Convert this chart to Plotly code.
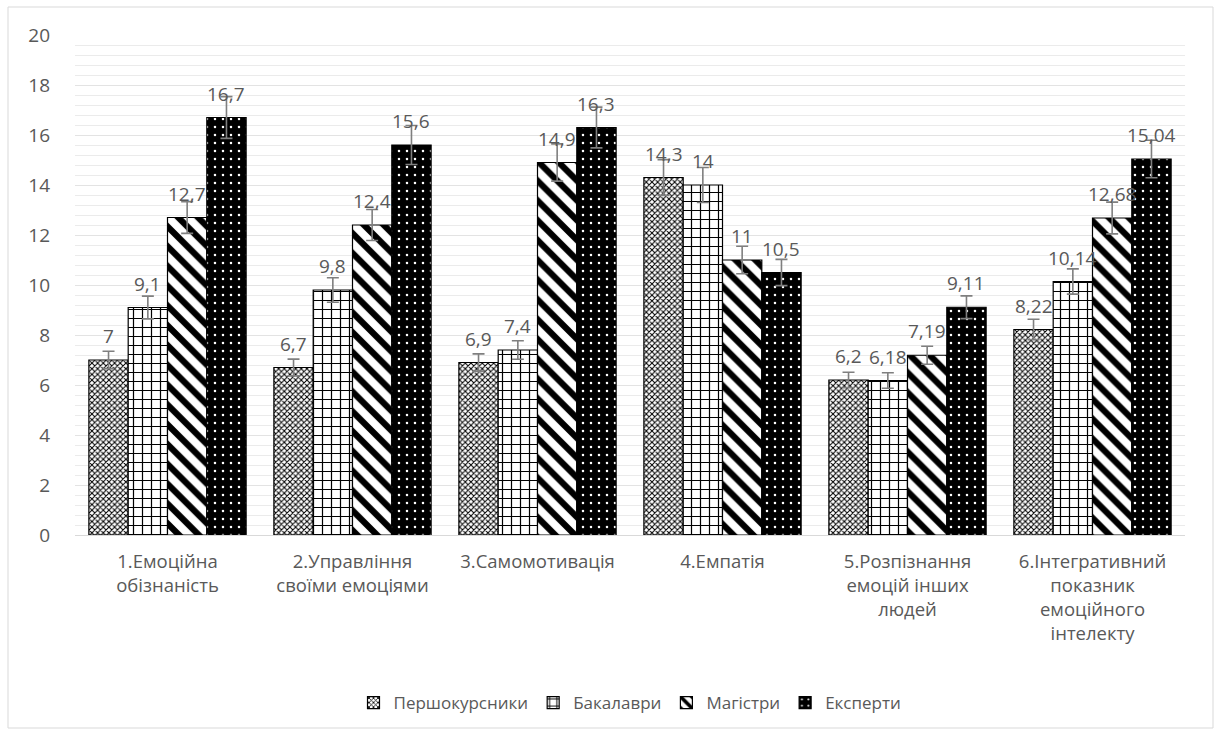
import plotly.graph_objects as go

categories = ["1.Емоційна<br>обізнаність", "2.Управління<br>своїми емоціями", "3.Самомотивація",
              "4.Емпатія", "5.Розпізнання<br>емоцій інших<br>людей",
              "6.Інтегративний<br>показник<br>емоційного<br>інтелекту"]
series_names = ["Першокурсники", "Бакалаври", "Магістри", "Експерти"]
pershokursnyky = [7, 6.7, 6.9, 14.3, 6.2, 8.22]
bakalavry = [9.1, 9.8, 7.4, 14, 6.18, 10.14]
magistry = [12.7, 12.4, 14.9, 11, 7.19, 12.68]
eksperty = [16.7, 15.6, 16.3, 10.5, 9.11, 15.04]
y_ticks = [0, 2, 4, 6, 8, 10, 12, 14, 16, 18, 20]

series_values = [pershokursnyky, bakalavry, magistry, eksperty]
patterns = [
    dict(shape="x", bgcolor="white", fgcolor="black", size=4, solidity=0.45),
    dict(shape="+", bgcolor="white", fgcolor="black", size=9, solidity=0.25),
    dict(shape="\\", bgcolor="white", fgcolor="black", size=14, solidity=0.45),
    dict(shape=".", bgcolor="black", fgcolor="white", size=8, solidity=0.08),
]
GRAY = "#595959"
FONT = "Open Sans"

W, H = 1220, 736
ML, MR, MT, MB = 75, 35, 35, 201
BARGAP = 0.15
plot_w = W - ML - MR
plot_h = H - MT - MB
bar_px = plot_w / len(categories) * (1 - BARGAP) / len(series_names)

fig = go.Figure()
for i, (name, vals, pat) in enumerate(zip(series_names, series_values, patterns)):
    fig.add_trace(go.Bar(
        x=categories, y=vals, name=name,
        marker=dict(color=pat["bgcolor"], pattern=dict(fillmode="replace", **pat),
                    line=dict(color="black", width=1.2)),
        error_y=dict(type="percent", value=5, color="#7f7f7f", thickness=1.6, width=6),
    ))
    offset = (i - (len(series_names) - 1) / 2) * bar_px
    for cat, v in zip(categories, vals):
        fig.add_annotation(x=cat, y=v, text=str(v).replace(".", ","), showarrow=False,
                           xshift=offset, yshift=9, yanchor="bottom",
                           font=dict(size=19, color=GRAY, family=FONT))

fig.update_layout(
    width=W, height=H,
    margin=dict(l=ML, r=MR, t=MT, b=MB, autoexpand=False),
    paper_bgcolor="white", plot_bgcolor="white",
    barmode="group", bargap=BARGAP, bargroupgap=0,
    font=dict(family=FONT, color=GRAY, size=16),
    legend=dict(orientation="h", x=0.5, xanchor="center", y=(535 - 703) / plot_h, yanchor="middle",
                font=dict(size=17, color=GRAY, family=FONT), itemwidth=30),
    showlegend=True,
)
fig.update_yaxes(range=[0, 20], tickvals=y_ticks, ticktext=[str(t) for t in y_ticks],
                 showgrid=True, gridcolor="#e3e3e3", gridwidth=1,
                 minor=dict(dtick=0.4, showgrid=True, gridcolor="#ebebeb", gridwidth=1),
                 zeroline=False, showline=False, ticks="", automargin=False,
                 tickfont=dict(size=19, color=GRAY, family=FONT), ticklabelstandoff=24)
fig.update_xaxes(showline=True, linecolor="#d9d9d9", linewidth=1, ticks="", automargin=False,
                 tickfont=dict(size=18.5, color=GRAY, family=FONT), ticklabelstandoff=10)

fig.add_shape(type="rect", xref="paper", yref="paper",
              x0=(8 - ML) / plot_w, x1=(1213 - ML) / plot_w,
              y0=(535 - 728) / plot_h, y1=(535 - 7) / plot_h,
              line=dict(color="#d9d9d9", width=1), fillcolor="rgba(0,0,0,0)", layer="below")

fig.write_html("out.html", config={"displayModeBar": False},
               post_script="document.body.style.margin='0';")
